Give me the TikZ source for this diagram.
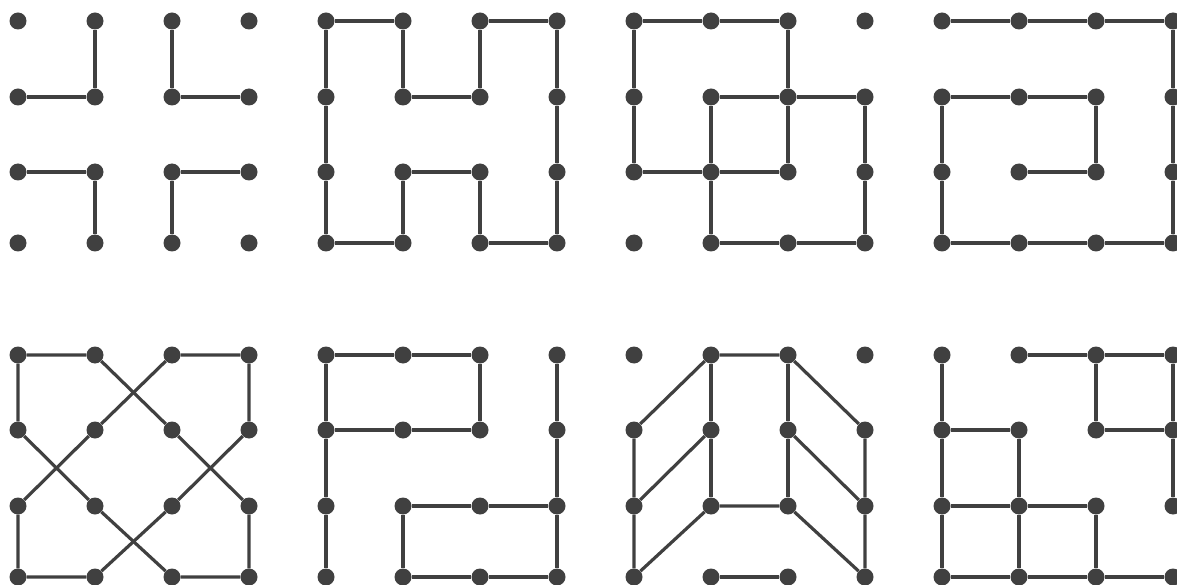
\documentclass[tikz,border=0pt]{standalone}
\begin{document}
\begin{tikzpicture}[
            x=1pt, y=-1pt,
            dot/.style={circle, fill=gray!50!black, inner sep=0pt, minimum size=17pt},
            edge/.style={draw=gray!50!black, line width=3.2pt},
        ]
            \useasboundingbox (0,0) rectangle (1177,585);

            % dots: grid \g, column \c, row \r
            \foreach \g/\gx/\gy in {1/0/0, 2/1/0, 3/2/0, 4/3/0, 5/0/1, 6/1/1, 7/2/1, 8/3/1} {
                \foreach \c in {1,...,4} {
                    \foreach \r/\ya/\yb in {1/21/355, 2/97/430, 3/172/506, 4/243/577} {
                        \node[dot] (d\g-\c\r) at ({18+77*(4*\gx+\c-1)}, {\ya+\gy*(\yb-\ya)}) {};
                    }
                }
            }

            % grid 1
            \draw[edge] (d1-21) -- (d1-22) -- (d1-12);
            \draw[edge] (d1-31) -- (d1-32) -- (d1-42);
            \draw[edge] (d1-13) -- (d1-23) -- (d1-24);
            \draw[edge] (d1-43) -- (d1-33) -- (d1-34);

            % grid 2
            \draw[edge] (d2-11) -- (d2-21) -- (d2-22) -- (d2-32) -- (d2-31) -- (d2-41) -- (d2-42) -- (d2-43) -- (d2-44)
                -- (d2-34) -- (d2-33) -- (d2-23) -- (d2-24) -- (d2-14) -- (d2-13) -- (d2-12) -- (d2-11);

            % grid 3
            \draw[edge] (d3-11) -- (d3-21) -- (d3-31) -- (d3-32) -- (d3-33) -- (d3-23) -- (d3-13) -- (d3-12) -- (d3-11);
            \draw[edge] (d3-22) -- (d3-32) -- (d3-42) -- (d3-43) -- (d3-44) -- (d3-34) -- (d3-24) -- (d3-23) -- (d3-22);

            % grid 4
            \draw[edge] (d4-11) -- (d4-21) -- (d4-31) -- (d4-41) -- (d4-42) -- (d4-43) -- (d4-44) -- (d4-34)
                -- (d4-24) -- (d4-14) -- (d4-13) -- (d4-12) -- (d4-22) -- (d4-32) -- (d4-33) -- (d4-23);

            % grid 5
            \draw[edge] (d5-12) -- (d5-11) -- (d5-21) -- (d5-32) -- (d5-43) -- (d5-44) -- (d5-34) -- (d5-23) -- (d5-12);
            \draw[edge] (d5-31) -- (d5-41) -- (d5-42) -- (d5-33) -- (d5-24) -- (d5-14) -- (d5-13) -- (d5-22) -- (d5-31);

            % grid 6
            \draw[edge] (d6-11) -- (d6-21) -- (d6-31) -- (d6-32) -- (d6-22) -- (d6-12) -- (d6-11);
            \draw[edge] (d6-12) -- (d6-13) -- (d6-14);
            \draw[edge] (d6-41) -- (d6-42) -- (d6-43) -- (d6-44) -- (d6-34) -- (d6-24) -- (d6-23) -- (d6-33) -- (d6-43);

            % grid 7
            \draw[edge] (d7-12) -- (d7-21) -- (d7-31) -- (d7-42) -- (d7-43) -- (d7-44) -- (d7-33) -- (d7-23) -- (d7-14) -- (d7-13) -- (d7-12);
            \draw[edge] (d7-21) -- (d7-22) -- (d7-23);
            \draw[edge] (d7-31) -- (d7-32) -- (d7-33);
            \draw[edge] (d7-22) -- (d7-13);
            \draw[edge] (d7-32) -- (d7-43);
            \draw[edge] (d7-24) -- (d7-34);

            % grid 8
            \draw[edge] (d8-11) -- (d8-12) -- (d8-13) -- (d8-14) -- (d8-24) -- (d8-34) -- (d8-44);
            \draw[edge] (d8-21) -- (d8-31) -- (d8-41) -- (d8-42) -- (d8-43);
            \draw[edge] (d8-31) -- (d8-32) -- (d8-42);
            \draw[edge] (d8-12) -- (d8-22) -- (d8-23) -- (d8-24);
            \draw[edge] (d8-13) -- (d8-23) -- (d8-33) -- (d8-34);
        \end{tikzpicture}
\end{document}
